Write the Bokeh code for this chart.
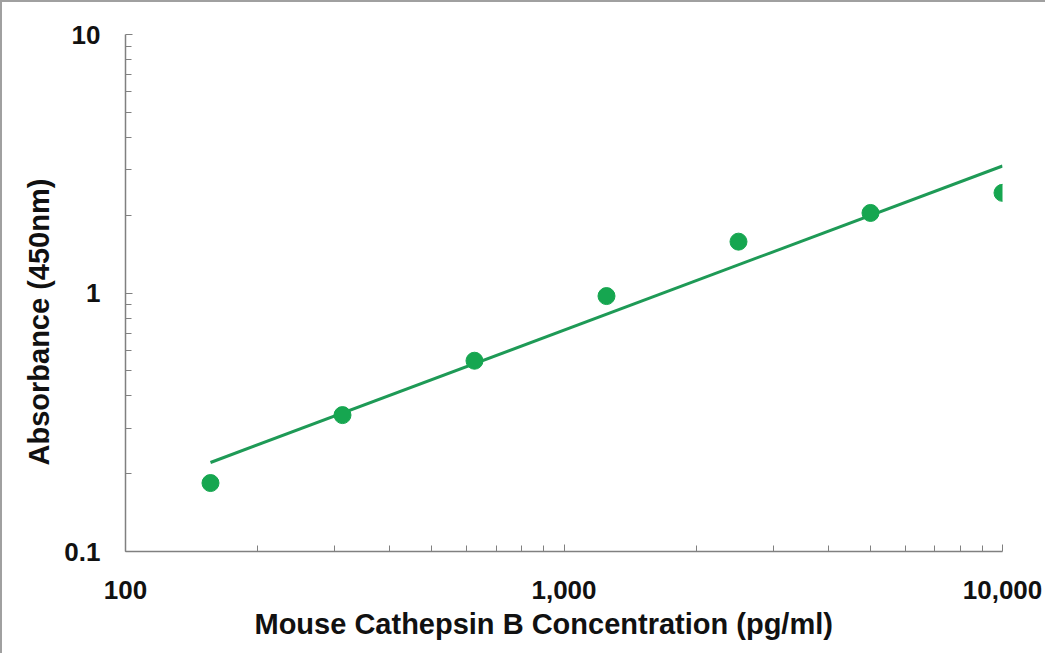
from bokeh.plotting import figure
from bokeh.models import FixedTicker, Range1d, Title
from bokeh.embed import file_html
from bokeh.resources import INLINE

# data
conc = [156.25, 312.5, 625, 1250, 2500, 5000, 10000]
absorb = [0.184, 0.337, 0.547, 0.973, 1.58, 2.04, 2.44]
fit_x = [156.25, 10000]
fit_y = [0.221, 3.10]
x_ticks = [100, 1000, 10000]
x_labels = ["100", "1,000", "10,000"]
y_ticks = [0.1, 1, 10]
y_labels = ["0.1", "1", "10"]
x_title = "Mouse Cathepsin B Concentration (pg/ml)"
y_title = "Absorbance (450nm)"

def minors(majors):
    out = []
    for m in majors[:-1]:
        out += [m * k for k in range(2, 10)]
    return out

p = figure(width=1045, height=653, x_axis_type="log", y_axis_type="log",
           x_range=Range1d(100, 10000), y_range=Range1d(0.1, 10),
           output_backend="svg", toolbar_location=None,
           min_border_left=123, min_border_right=45, min_border_top=32,
           min_border_bottom=104)
p.styles = {"border-top": "2px solid #a0a0a0", "border-left": "2px solid #a0a0a0"}
p.outline_line_color = None
p.grid.visible = False

p.line(fit_x, fit_y, line_color="#1e9a56", line_width=3)
p.scatter(conc, absorb, size=17, fill_color="#16a650", line_color="#16a650")

font = "Liberation Sans"
for ax, ticks, labels in [(p.xaxis[0], x_ticks, x_labels), (p.yaxis[0], y_ticks, y_labels)]:
    ax.ticker = FixedTicker(ticks=ticks, minor_ticks=minors(ticks))
    ax.major_label_overrides = {t: l for t, l in zip(ticks, labels)}
    ax.axis_line_color = "#808080"
    ax.axis_line_width = 1.5
    ax.major_tick_line_color = "#808080"
    ax.minor_tick_line_color = "#808080"
    ax.major_tick_in = 7
    ax.major_tick_out = 0
    ax.minor_tick_in = 6
    ax.minor_tick_out = 0
    ax.major_label_text_font = font
    ax.major_label_text_font_style = "bold"
    ax.major_label_text_font_size = "26px"
    ax.major_label_text_color = "#111111"

p.xaxis.major_label_standoff = 29
p.yaxis.major_label_standoff = 25

tx = Title(text=x_title, align="left", offset=129, standoff=8,
           text_font=font, text_font_style="bold", text_font_size="29px",
           text_color="#111111")
ty = Title(text=y_title, align="left", offset=86, standoff=13,
           text_font=font, text_font_style="bold", text_font_size="29px",
           text_color="#111111")
p.add_layout(tx, "below")
p.add_layout(ty, "left")

open("out.html", "w").write(file_html(p, INLINE))
